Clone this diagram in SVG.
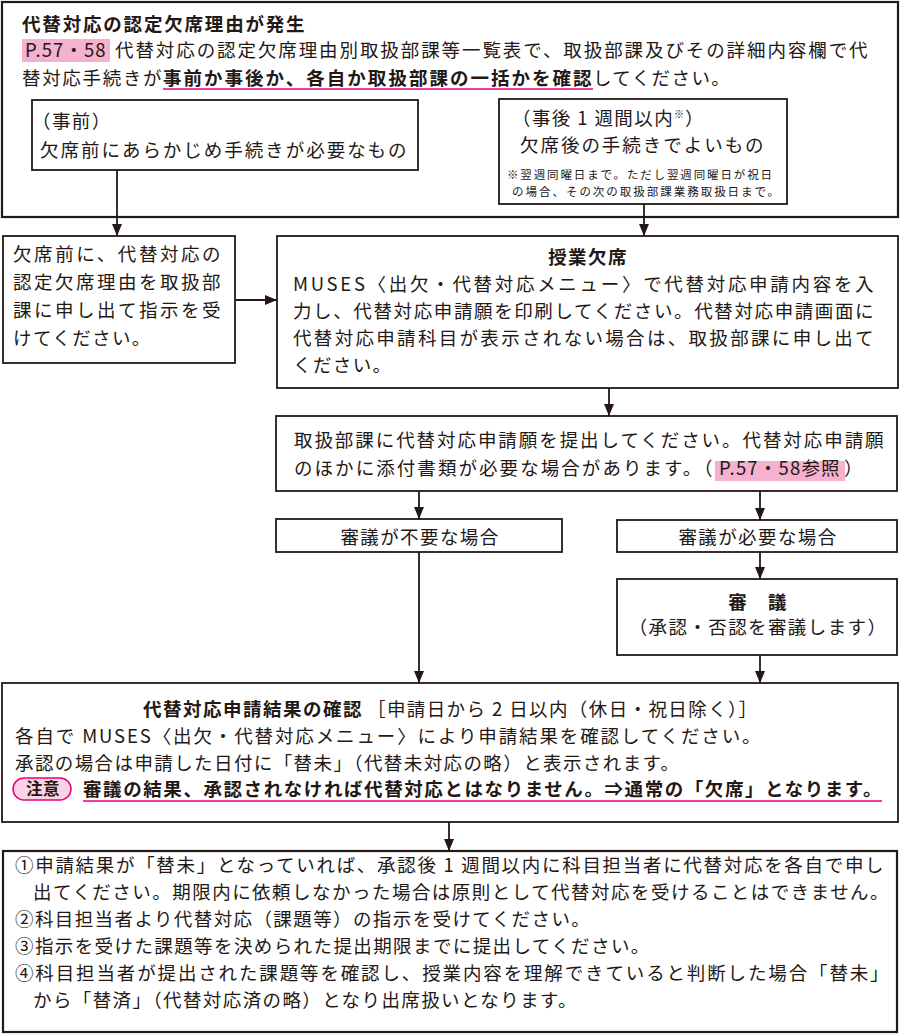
<svg xmlns="http://www.w3.org/2000/svg" width="900" height="1034" viewBox="0 0 900 1034">
<defs>
<marker id="ah" viewBox="0 0 12 10" refX="12" refY="5" markerWidth="12" markerHeight="10" markerUnits="userSpaceOnUse" orient="auto">
<path d="M0,0 L12,5 L0,10 z" fill="#231815"/>
</marker>
<style>
text{font-family:"Noto Sans CJK JP","Noto Sans",sans-serif;fill:#231815;font-size:18.5px;letter-spacing:1.4px}
.b{font-weight:700}
.s{font-size:11.5px;letter-spacing:0.9px}
.box{fill:#fff;stroke:#231815;stroke-width:1.8}
.big{fill:#fff;stroke:#231815;stroke-width:2.2}
.hl{fill:#f5b1cd}
.ul{stroke:#e6007e;stroke-width:1.6}
.c line{stroke:#231815;stroke-width:1.8;marker-end:url(#ah)}
.m{text-anchor:middle}
</style>
</defs>
<rect width="900" height="1034" fill="#fff"/>

<g id="start">
<rect class="big" x="2" y="2" width="896" height="215"/>
<text class="b" x="22" y="31" textLength="284">代替対応の認定欠席理由が発生</text>
<rect class="hl" x="22" y="39" width="88" height="23"/>
<text x="25" y="57" textLength="82" lengthAdjust="spacing">P.57・58</text>
<text x="115" y="57" textLength="754">代替対応の認定欠席理由別取扱部課等一覧表で、取扱部課及びその詳細内容欄で代</text>
<text x="22" y="85" textLength="141">替対応手続きが</text>
<text class="b" x="163" y="85" textLength="430">事前か事後か、各自か取扱部課の一括かを確認</text>
<text x="593" y="85">してください。</text>
<line class="ul" x1="163" y1="89" x2="593" y2="89"/>
</g>

<g id="before">
<rect class="box" x="32" y="100" width="386" height="70"/>
<text x="32" y="128">（事前）</text>
<text x="40" y="157" textLength="368">欠席前にあらかじめ手続きが必要なもの</text>
</g>

<g id="after">
<rect class="box" x="499" y="99" width="288" height="105"/>
<text x="512" y="125">（事後 1 週間以内<tspan style="font-size:10px;letter-spacing:0" dy="-7">※</tspan><tspan dx="1" dy="7">）</tspan></text>
<text x="520" y="152" textLength="245">欠席後の手続きでよいもの</text>
<text class="s" x="507" y="179" textLength="266">※翌週同曜日まで。ただし翌週同曜日が祝日</text>
<text class="s" x="512" y="196" textLength="268">の場合、その次の取扱部課業務取扱日まで。</text>
</g>

<g id="prior-notice">
<rect class="box" x="3" y="236" width="232" height="127"/>
<text x="13" y="261" textLength="209">欠席前に、代替対応の</text>
<text x="13" y="289" textLength="209">認定欠席理由を取扱部</text>
<text x="13" y="317" textLength="209">課に申し出て指示を受</text>
<text x="13" y="345">けてください。</text>
</g>

<g id="class-absence">
<rect class="box" x="277" y="236" width="621" height="152"/>
<text class="b m" x="588" y="264">授業欠席</text>
<text x="293" y="291" textLength="582">MUSES〈出欠・代替対応メニュー〉で代替対応申請内容を入</text>
<text x="293" y="318" textLength="582">力し、代替対応申請願を印刷してください。代替対応申請画面に</text>
<text x="293" y="345" textLength="582">代替対応申請科目が表示されない場合は、取扱部課に申し出て</text>
<text x="293" y="372">ください。</text>
</g>

<g id="submit">
<rect class="box" x="276" y="416" width="621" height="75"/>
<text x="294" y="447" textLength="591">取扱部課に代替対応申請願を提出してください。代替対応申請願</text>
<text x="294" y="475" textLength="420">のほかに添付書類が必要な場合があります。（</text>
<rect class="hl" x="715" y="461" width="130" height="20"/>
<text x="719" y="475" textLength="122" lengthAdjust="spacing">P.57・58参照</text>
<text x="844" y="475">）</text>
</g>

<g id="no-review">
<rect class="box" x="276" y="519" width="286" height="33"/>
<text class="m" x="420" y="544">審議が不要な場合</text>
</g>

<g id="need-review">
<rect class="box" x="617" y="520" width="280" height="32"/>
<text class="m" x="758" y="544">審議が必要な場合</text>
</g>

<g id="review">
<rect class="box" x="617" y="579" width="280" height="76"/>
<text class="b m" x="758" y="609">審　議</text>
<text class="m" x="758" y="634">（承認・否認を審議します）</text>
</g>

<g id="result">
<rect class="box" x="2" y="683" width="896" height="139"/>
<text class="b" x="143" y="716" textLength="220">代替対応申請結果の確認</text>
<text x="367" y="716">［申請日から 2 日以内（休日・祝日除く）］</text>
<text x="15" y="743" textLength="747">各自で MUSES〈出欠・代替対応メニュー〉により申請結果を確認してください。</text>
<text x="15" y="770">承認の場合は申請した日付に「替未」（代替未対応の略）と表示されます。</text>
<rect x="13" y="778" width="58" height="22" rx="11" fill="#fbd3e4" stroke="#e6007e" stroke-width="1.5"/>
<text class="b m" x="43" y="795" style="font-size:16.5px;letter-spacing:0.5px">注意</text>
<text class="b" x="83" y="796" textLength="800">審議の結果、承認されなければ代替対応とはなりません。⇒通常の「欠席」となります。</text>
<line class="ul" x1="83" y1="801" x2="882" y2="801"/>
</g>

<g id="steps">
<rect class="big" x="3" y="851" width="894" height="181"/>
<text x="15" y="872" textLength="870">①申請結果が「替未」となっていれば、承認後 1 週間以内に科目担当者に代替対応を各自で申し</text>
<text x="33" y="899" textLength="857">出てください。期限内に依頼しなかった場合は原則として代替対応を受けることはできません。</text>
<text x="15" y="926">②科目担当者より代替対応（課題等）の指示を受けてください。</text>
<text x="15" y="953">③指示を受けた課題等を決められた提出期限までに提出してください。</text>
<text x="15" y="980" textLength="875">④科目担当者が提出された課題等を確認し、授業内容を理解できていると判断した場合「替未」</text>
<text x="33" y="1007">から「替済」（代替対応済の略）となり出席扱いとなります。</text>
</g>

<g id="connectors" class="c">
<line x1="117" y1="170" x2="117" y2="236"/>
<line x1="644" y1="204" x2="644" y2="236"/>
<line x1="235" y1="300" x2="277" y2="300"/>
<line x1="609" y1="388" x2="609" y2="416"/>
<line x1="419" y1="491" x2="419" y2="519"/>
<line x1="760" y1="491" x2="760" y2="520"/>
<line x1="760" y1="552" x2="760" y2="579"/>
<line x1="419" y1="552" x2="419" y2="683"/>
<line x1="760" y1="655" x2="760" y2="683"/>
<line x1="449" y1="822" x2="449" y2="851"/>
</g>
</svg>
